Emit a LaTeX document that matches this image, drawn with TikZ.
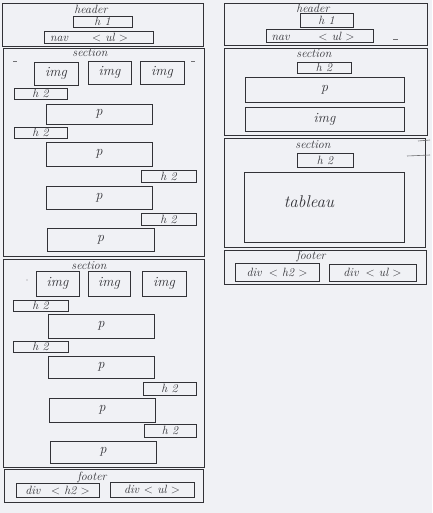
\documentclass[tikz,border=0pt]{standalone}
\definecolor{paper}{RGB}{240,241,245}
\definecolor{pencil}{RGB}{50,50,55}
\tikzset{
  box/.style={draw=pencil, line width=0.7pt, inner sep=0pt, text=pencil,
    font=\itshape\fontsize{12}{13}\selectfont},
  ttl/.style={inner sep=0pt, text=pencil, font=\itshape\fontsize{12}{13}\selectfont},
  big/.style={font=\itshape\fontsize{14}{15}\selectfont},
  huge/.style={font=\itshape\fontsize{17}{18}\selectfont},
  stray/.style={draw=pencil!70, line width=0.6pt},
}
\newcommand\bx[7][]{\node[box,#1, minimum width={(#5-#3)*1pt}, minimum height={(#6-#4)*1pt}] (#2) at ({(#3+#5)/2},{(#4+#6)/2}) {#7};}
\begin{document}
\begin{tikzpicture}[x=1pt,y=-1pt]
\fill[paper] (0,0) rectangle (432,513);
\useasboundingbox (0,0) rectangle (432,513);

% ---------- left column ----------
\bx{Lheader}{2}{3}{203}{46}{}
\node[ttl] (LheaderT) at (91,9) {header};
\bx{Lh1}{73}{16}{132}{27}{h 1}
\bx{Lnav}{44}{31}{153}{43}{}
\node[ttl] (LnavT) at (89,37) {nav\hspace{2em}$<$ ul $>$};

\bx{Lsec1}{3}{48}{204}{256}{}
\node[ttl] (Lsec1T) at (90,53) {section};
\bx[big]{Li1}{34}{62}{78}{85}{img}
\bx[big]{Li2}{88}{61}{131}{84}{img}
\bx[big]{Li3}{140}{61}{184}{84}{img}
\bx{La1}{14}{88}{67}{99}{h 2}
\bx[big]{Lp1}{46}{104}{152}{124}{p}
\bx{La2}{14}{127}{67}{138}{h 2}
\bx[big]{Lp2}{46}{142}{152}{166}{p}
\bx{La3}{141}{170}{196}{182}{h 2}
\bx[big]{Lp3}{46}{186}{152}{209}{p}
\bx{La4}{141}{213}{196}{225}{h 2}
\bx[big]{Lp4}{47}{228}{154}{251}{p}

\bx{Lsec2}{3}{259}{204}{467}{}
\node[ttl] (Lsec2T) at (89,266) {section};
\bx[big]{Lj1}{36}{271}{79}{296}{img}
\bx[big]{Lj2}{88}{271}{130}{296}{img}
\bx[big]{Lj3}{142}{271}{186}{296}{img}
\bx{Lb1}{13}{300}{68}{311}{h 2}
\bx[big]{Lq1}{48}{314}{154}{338}{p}
\bx{Lb2}{13}{341}{68}{352}{h 2}
\bx[big]{Lq2}{48}{356}{154}{378}{p}
\bx{Lb3}{143}{382}{196}{395}{h 2}
\bx[big]{Lq3}{49}{398}{155}{422}{p}
\bx{Lb4}{144}{424}{196}{437}{h 2}
\bx[big]{Lq4}{50}{441}{156}{463}{p}

\bx{Lfooter}{4}{469}{203}{502}{}
\node[ttl] (LfooterT) at (92,477) {footer};
\bx{Ld1}{16}{483}{99}{497}{div\hspace{0.9em}$<$ h2 $>$}
\bx{Ld2}{110}{482}{194}{497}{div\hspace{0.4em}$<$ ul $>$}

% ---------- right column ----------
\bx{Rheader}{224}{3}{427}{45}{}
\node[ttl] (RheaderT) at (313,8) {header};
\bx{Rh1}{300}{13}{353}{27}{h 1}
\bx{Rnav}{266}{29}{373}{42}{}
\node[ttl] (RnavT) at (313,36) {nav\hspace{2.4em}$<$ ul $>$};

\bx{Rsec1}{224}{48}{427}{135}{}
\node[ttl] (Rsec1T) at (314,54) {section};
\bx{Ra1}{297}{62}{351}{73}{h 2}
\bx[big]{Rp1}{245}{77}{404}{102}{p}
\bx[big]{Ri1}{245}{107}{404}{131}{img}

\bx{Rsec2}{224}{138}{425}{247}{}
\node[ttl] (Rsec2T) at (313,145) {section};
\bx{Ra2}{297}{153}{353}{167}{h 2}
\bx{Rtab}{244}{172}{404}{242}{}
\node[ttl,huge] (RtabT) at (309,202) {tableau};

\bx{Rfooter}{224}{250}{426}{284}{}
\node[ttl] (RfooterT) at (311,256) {footer};
\bx{Rd1}{235}{263}{319}{281}{div\hspace{0.6em}$<$ h2 $>$}
\bx{Rd2}{329}{264}{416}{281}{div\hspace{0.6em}$<$ ul $>$}

% ---------- stray pencil marks ----------
\draw[stray] (13,61) -- (17,61);
\draw[stray] (191,61) -- (195,61);
\fill[pencil!60] (27,280) circle (0.6);
\draw[stray] (418,141) -- (430,140);
\draw[stray] (407,156) -- (430,155);
\draw[stray] (393,39) -- (398,39);
\end{tikzpicture}
\end{document}
